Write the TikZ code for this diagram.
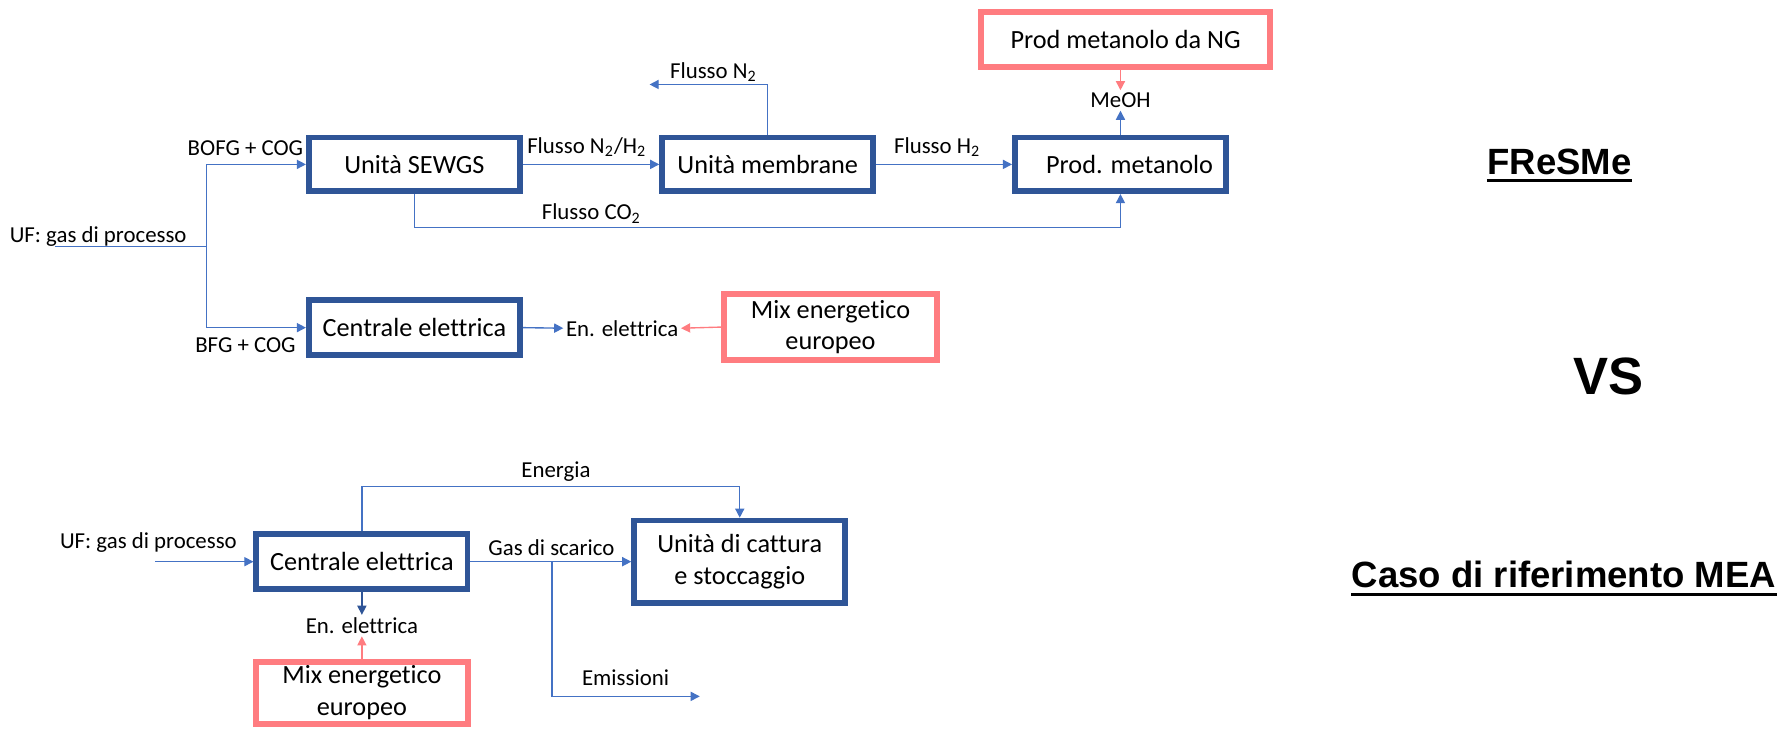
\documentclass[tikz,border=0pt]{standalone}
\usepackage{fontspec}
\setmainfont{Carlito}[Ligatures={NoCommon}]
\newfontfamily\titlefont{Liberation Sans}
\usetikzlibrary{arrows.meta}
\definecolor{boxblue}{HTML}{2F5597}
\definecolor{lineblue}{HTML}{4472C4}
\definecolor{boxred}{HTML}{FF7C80}
\begin{document}
\begin{tikzpicture}
    [
    x=0.5pt, y=-0.5pt,
    >={Triangle[length=4pt,width=4pt]},
    unit/.style={rectangle,draw=boxblue,line width=2.5pt,inner sep=0pt,minimum width=92.5pt,minimum height=23.5pt,align=center,font=\fontsize{11.5}{14}\selectfont},
    ext/.style={rectangle,draw=boxred,line width=2.5pt,inner sep=0pt,minimum width=93pt,minimum height=27pt,align=center,font=\fontsize{11.5}{14}\selectfont},
    lbl/.style={inner sep=1pt,font=\fontsize{10}{12}\selectfont},
    title/.style={inner sep=0pt,anchor=base,font=\titlefont\bfseries\fontsize{16}{19}\selectfont},
    line/.style={draw=lineblue,line width=0.6pt},
    flow/.style={line,->},
    darkflow/.style={draw=boxblue,line width=0.6pt,->},
    redflow/.style={draw=boxred,line width=0.6pt,->},
    uline/.style={line width=1.25pt}
    ]
    \useasboundingbox (0,0) rectangle (1568,638);
    % FReSMe
    \node (sewgs) at (363,144) [unit] {Unità SEWGS};
    \node (memb) at (672.5,144) [unit] {Unità membrane};
    \node (prod) at (981.5,144) [unit] {\hspace*{8pt}Prod. metanolo};
    \node (cent1) at (363,287) [unit, minimum height=24pt] {Centrale elettrica};
    \node (ng) at (986,34.5) [ext, minimum width=126.5pt, minimum height=24pt] {Prod metanolo da NG};
    \node (mix1) at (727.5,286.5) [ext, minimum height=29pt] {Mix energetico\\europeo};
    \node (meoh) at (981.5,88) [lbl] {MeOH};
    \node (enel1) at (545,287.5) [lbl] {En. elettrica};
    \coordinate (ufin) at (48,216);
    \coordinate (split) at (181,216);
    \coordinate (n2end) at (569,74);
    \coordinate (co2) at (0,199.5);
    \node (luf1) at (86,207) [lbl] {UF: gas di processo};
    \node (lbofg) at (215,130) [lbl] {BOFG + COG};
    \node (lbfg) at (215,302) [lbl] {BFG + COG};
    \node (ln2h2) at (514,129) [lbl] {Flusso N\textsubscript{2}/H\textsubscript{2}};
    \node (lh2) at (821,129) [lbl] {Flusso H\textsubscript{2}};
    \node (ln2) at (625,63) [lbl] {Flusso N\textsubscript{2}};
    \node (lco2) at (518,187) [lbl] {Flusso CO\textsubscript{2}};
    \draw [line] (ufin) -- (split);
    \draw [flow] (split) |- (sewgs.west);
    \draw [flow] (split) |- (cent1.west);
    \draw [flow] (sewgs.east) -- (memb.west);
    \draw [flow] (memb.east) -- (prod.west);
    \draw [flow] (memb.north) |- (n2end);
    \draw [flow] (sewgs.south) -- (sewgs.south |- co2) -| (prod.south);
    \draw [flow] (prod.north) -- (meoh.south);
    \draw [redflow] (ng.south -| meoh) -- (meoh.north);
    \draw [flow] (cent1.east) -- (enel1.west);
    \draw [redflow] (mix1.west) -- (enel1.east);
    % caso di riferimento
    \node (cent2) at (317,492) [unit, minimum height=24pt] {Centrale elettrica};
    \node (ccs) at (648,492) [unit, minimum height=36pt] {Unità di cattura\\e stoccaggio};
    \node (mix2) at (317,607) [ext] {Mix energetico\\europeo};
    \node (enel2) at (317,548) [lbl] {En. elettrica};
    \coordinate (ufin2) at (136,492);
    \coordinate (en) at (0,426);
    \coordinate (gasbr) at (483.5,492);
    \coordinate (emis) at (613,610);
    \node (luf2) at (130,475) [lbl] {UF: gas di processo};
    \node (lener) at (487,413) [lbl] {Energia};
    \node (lgas) at (483,480) [lbl] {Gas di scarico};
    \node (lemis) at (548,594) [lbl] {Emissioni};
    \draw [flow] (ufin2) -- (cent2.west);
    \draw [flow] (cent2.north) -- (cent2.north |- en) -| (ccs.north);
    \draw [flow] (cent2.east) -- (ccs.west);
    \draw [flow] (gasbr) |- (emis);
    \draw [darkflow] (cent2.south) -- (enel2.north);
    \draw [redflow] (mix2.north) -- (enel2.south);
    % titoli
    \node (fresme) at (1366,153) [title] {FReSMe};
    \node (vs) at (1409,346) [title, font=\titlefont\bfseries\fontsize{23}{27}\selectfont] {VS};
    \node (caso) at (1370,515) [title] {Caso di riferimento MEA};
    \draw [uline] ([yshift=-2.4pt]fresme.base west) -- ([yshift=-2.4pt]fresme.base east);
    \draw [uline] ([yshift=-2.8pt]caso.base west) -- ([yshift=-2.8pt]caso.base east);
  \end{tikzpicture}
\end{document}
